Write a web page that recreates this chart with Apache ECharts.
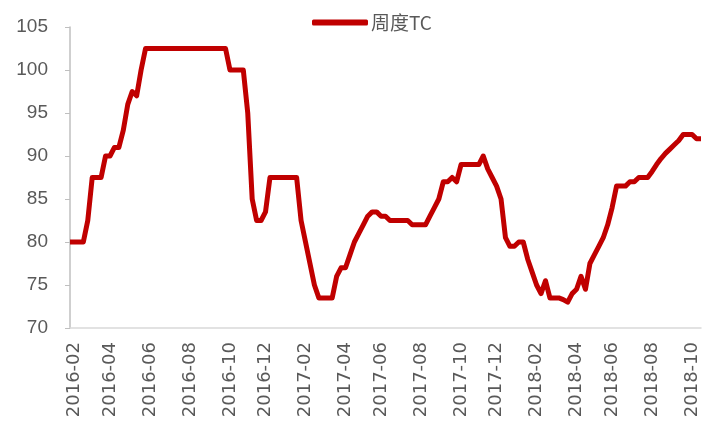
<!DOCTYPE html>
<html>
<head>
<meta charset="utf-8">
<script src="https://cdn.jsdelivr.net/npm/echarts@6/dist/echarts.min.js"></script>
<style>
  html, body { margin: 0; padding: 0; background: #fff; }
  #tcChart { width: 702px; height: 430px; }
</style>
</head>
<body>
<div id="tcChart"></div>
<script>
// weekly TC, first week 2016-01-29
var startDate = Date.UTC(2016, 0, 29)
var tcValues = [
    80, 80, 80, 80, 82.5, 87.5, 87.5, 87.5, 90, 90,
    91, 91, 93, 96, 97.5, 97, 100, 102.5, 102.5, 102.5,
    102.5, 102.5, 102.5, 102.5, 102.5, 102.5, 102.5, 102.5, 102.5, 102.5,
    102.5, 102.5, 102.5, 102.5, 102.5, 102.5, 100, 100, 100, 100,
    95, 85, 82.5, 82.5, 83.5, 87.5, 87.5, 87.5, 87.5, 87.5,
    87.5, 87.5, 82.5, 80, 77.5, 75, 73.5, 73.5, 73.5, 73.5,
    76, 77, 77, 78.5, 80, 81, 82, 83, 83.5, 83.5,
    83, 83, 82.5, 82.5, 82.5, 82.5, 82.5, 82, 82, 82,
    82, 83, 84, 85, 87, 87, 87.5, 87, 89, 89,
    89, 89, 89, 90, 88.5, 87.5, 86.5, 85, 80.5, 79.5,
    79.5, 80, 80, 78, 76.5, 75, 74, 75.5, 73.5, 73.5,
    73.5, 73.3, 73, 74, 74.5, 76, 74.5, 77.5, 78.5, 79.5,
    80.5, 82, 84, 86.5, 86.5, 86.5, 87, 87, 87.5, 87.5,
    87.5, 88.2, 89, 89.7, 90.3, 90.8, 91.3, 91.8, 92.5, 92.5,
    92.5, 92, 92
]
var yTicks = {min: 70, max: 105, step: 5}

var weeks = []
for (var i = 0; i < tcValues.length; i++) {
    var d = new Date(startDate + i * 7 * 86400000)
    var m = d.getUTCMonth() + 1
    var dd = d.getUTCDate()
    weeks.push(d.getUTCFullYear() + '-' + (m < 10 ? '0' + m : m) + '-' + (dd < 10 ? '0' + dd : dd))
}

var tcChart = echarts.init(document.getElementById('tcChart'));
var option = {
    animation: false,
    grid: {
        left: 70,
        right: 1,
        top: 27,
        bottom: 102,
    },
    legend: {
        left: 307,
        top: 8,
        icon: 'roundRect',
        itemWidth: 56,
        itemHeight: 6,
        itemGap: 2,
        textStyle: {
            fontFamily: 'Noto Sans CJK SC',
            fontSize: 19,
            color: '#595959',
            padding: [0, 0, 0, -2],
        },
        data: ['周度TC']
    },
    xAxis: {
        type: 'category',
        boundaryGap: false,
        data: weeks,
        axisLine: {lineStyle: {color: '#d9d9d9', width: 1.5}},
        axisTick: {show: false},
        axisLabel: {
            rotate: 90,
            margin: 14,
            fontFamily: 'DejaVu Sans',
            fontSize: 18,
            color: '#595959',
            interval: function(index, value) {
                var d = new Date(value + 'T00:00:00Z')
                return (d.getUTCMonth() + 1) % 2 === 0 && d.getUTCDate() <= 7
            },
            formatter: function(value) {
                return value.slice(0, 7)
            }
        },
    },
    yAxis: {
        type: 'value',
        min: yTicks.min,
        max: yTicks.max,
        interval: yTicks.step,
        splitLine: {show: false},
        axisLine: {show: true, lineStyle: {color: '#bfbfbf', width: 1.5}},
        axisTick: {show: true, length: 5, lineStyle: {color: '#bfbfbf'}},
        axisLabel: {
            margin: 22,
            fontFamily: 'Liberation Sans',
            fontSize: 19,
            color: '#595959',
        },
    },
    series: [{
        name: '周度TC',
        type: 'line',
        data: tcValues,
        showSymbol: false,
        symbol: 'none',
        lineStyle: {color: '#c00000', width: 5, join: 'round'},
        itemStyle: {color: '#c00000'},
    }]
};

tcChart.setOption(option);
</script>
</body>
</html>
